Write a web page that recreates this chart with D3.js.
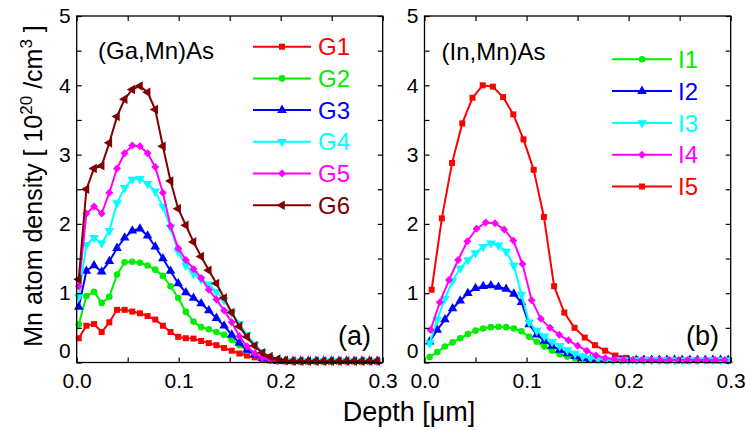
<!DOCTYPE html>
<html>
<head>
<meta charset="utf-8">
<script src="https://cdn.jsdelivr.net/npm/d3@7"></script>
<style>
  html, body { margin: 0; padding: 0; background: #fff; }
  svg { display: block; font-family: "Liberation Sans", Arial, sans-serif; }
</style>
</head>
<body>
<svg id="chart" width="746" height="430"></svg>
<script>
// ---- Depth grids [µm] ----
const depthG = [0.002, 0.0095, 0.017, 0.0245, 0.032, 0.0395, 0.047, 0.0545, 0.062, 0.0695,
  0.077, 0.0845, 0.092, 0.0995, 0.107, 0.1145, 0.122, 0.1295, 0.137, 0.1445,
  0.152, 0.1595, 0.167, 0.1745, 0.182, 0.1895, 0.197, 0.2045, 0.212, 0.2195,
  0.227, 0.2345, 0.242, 0.2495, 0.257, 0.2645, 0.272, 0.2795, 0.287, 0.2945];

const depthI = [0.005, 0.0125, 0.02, 0.0275, 0.035, 0.0425, 0.05, 0.0575, 0.065, 0.0725,
  0.08, 0.0875, 0.095, 0.1025, 0.11, 0.1175, 0.125, 0.1325, 0.14, 0.1475,
  0.155, 0.1625, 0.17, 0.1775, 0.185, 0.1925, 0.2, 0.2075, 0.215, 0.2225,
  0.23, 0.2375, 0.245, 0.2525, 0.26, 0.2675, 0.275, 0.2825, 0.29, 0.2975];

const depthI4 = [0.006, 0.015, 0.024, 0.033, 0.042, 0.051, 0.06, 0.069, 0.078, 0.087,
  0.096, 0.105, 0.114, 0.123, 0.132, 0.141, 0.15, 0.159, 0.168, 0.177,
  0.186, 0.195, 0.204, 0.213, 0.222, 0.231, 0.24, 0.249, 0.258, 0.267,
  0.276, 0.285, 0.294];

const depthI5 = [0.007, 0.017, 0.027, 0.037, 0.047, 0.057, 0.067, 0.077, 0.087, 0.097,
  0.107, 0.117, 0.127, 0.137, 0.147, 0.157, 0.167, 0.177, 0.187, 0.197,
  0.207, 0.217, 0.227, 0.237, 0.247, 0.257, 0.267, 0.277, 0.287, 0.297];

// ---- (Ga,Mn)As Mn density [1e20 /cm^3] ----
const G1 = [0.35, 0.53, 0.555, 0.44, 0.58, 0.76, 0.76, 0.735, 0.71, 0.67,
  0.62, 0.53, 0.44, 0.37, 0.35, 0.345, 0.31, 0.28, 0.25, 0.21,
  0.17, 0.13, 0.10, 0.075, 0.05, 0.03, 0.02, 0.015, 0.015, 0.012,
  0.012, 0.015, 0.012, 0.01, 0.012, 0.015, 0.012, 0.01, 0.012, 0.012];
const G2 = [0.55, 0.96, 1.02, 0.86, 0.95, 1.27, 1.445, 1.455, 1.44, 1.40,
  1.34, 1.25, 1.10, 0.93, 0.73, 0.59, 0.51, 0.48, 0.44, 0.40,
  0.33, 0.25, 0.17, 0.11, 0.06, 0.035, 0.02, 0.02, 0.015, 0.015,
  0.02, 0.015, 0.015, 0.02, 0.015, 0.015, 0.02, 0.015, 0.015, 0.02];
const G3 = [0.80, 1.32, 1.40, 1.31, 1.46, 1.65, 1.80, 1.90, 1.93, 1.83,
  1.67, 1.50, 1.32, 1.14, 1.01, 0.93, 0.85, 0.75, 0.64, 0.53,
  0.40, 0.28, 0.18, 0.11, 0.06, 0.035, 0.02, 0.02, 0.02, 0.02,
  0.02, 0.02, 0.02, 0.02, 0.02, 0.02, 0.02, 0.02, 0.02, 0.02];
const G4 = [0.95, 1.70, 1.80, 1.72, 1.90, 2.30, 2.52, 2.64, 2.65, 2.58,
  2.47, 2.25, 1.95, 1.60, 1.40, 1.28, 1.20, 1.13, 1.02, 0.90,
  0.72, 0.56, 0.40, 0.26, 0.15, 0.07, 0.035, 0.025, 0.02, 0.02,
  0.02, 0.02, 0.02, 0.02, 0.02, 0.02, 0.02, 0.02, 0.02, 0.02];
const G5 = [1.10, 2.15, 2.25, 2.15, 2.45, 2.80, 3.02, 3.13, 3.12, 3.02,
  2.82, 2.45, 1.97, 1.65, 1.48, 1.35, 1.22, 1.05, 0.91, 0.75,
  0.58, 0.38, 0.23, 0.13, 0.07, 0.035, 0.02, 0.02, 0.02, 0.02,
  0.02, 0.02, 0.02, 0.02, 0.02, 0.02, 0.02, 0.02, 0.02, 0.02];
const G6 = [1.20, 2.50, 2.80, 2.84, 3.17, 3.55, 3.80, 3.94, 3.99, 3.90,
  3.65, 3.12, 2.62, 2.22, 1.98, 1.74, 1.53, 1.33, 1.14, 0.93,
  0.72, 0.52, 0.37, 0.24, 0.14, 0.085, 0.05, 0.03, 0.02, 0.02,
  0.02, 0.02, 0.02, 0.02, 0.02, 0.02, 0.02, 0.02, 0.02, 0.02];

// ---- (In,Mn)As Mn density [1e20 /cm^3] ----
const I1 = [0.08, 0.15, 0.23, 0.29, 0.35, 0.41, 0.46, 0.49, 0.51, 0.515,
  0.51, 0.49, 0.45, 0.37, 0.30, 0.23, 0.17, 0.12, 0.085, 0.06,
  0.045, 0.035, 0.035, 0.035, 0.035, 0.035, 0.035, 0.035, 0.035, 0.035,
  0.035, 0.035, 0.035, 0.035, 0.035, 0.035, 0.035, 0.035, 0.035, 0.035];
const I2 = [0.30, 0.47, 0.62, 0.78, 0.89, 1.00, 1.07, 1.10, 1.11, 1.09,
  1.06, 0.99, 0.87, 0.55, 0.40, 0.31, 0.24, 0.18, 0.13, 0.09,
  0.06, 0.045, 0.035, 0.035, 0.035, 0.035, 0.035, 0.035, 0.035, 0.035,
  0.035, 0.035, 0.035, 0.035, 0.035, 0.035, 0.035, 0.035, 0.035, 0.035];
const I3 = [0.28, 0.62, 0.92, 1.18, 1.36, 1.48, 1.58, 1.67, 1.72, 1.69,
  1.60, 1.40, 0.98, 0.58, 0.46, 0.38, 0.30, 0.24, 0.18, 0.13,
  0.09, 0.065, 0.05, 0.04, 0.035, 0.035, 0.035, 0.035, 0.035, 0.035,
  0.035, 0.035, 0.035, 0.035, 0.035, 0.035, 0.035, 0.035, 0.035, 0.035];
const I4 = [0.47, 0.87, 1.19, 1.48, 1.75, 1.93, 2.02, 2.01, 1.92, 1.76,
  1.42, 0.90, 0.63, 0.50, 0.40, 0.32, 0.24, 0.17, 0.10, 0.065,
  0.045, 0.035, 0.035, 0.035, 0.035, 0.035, 0.035, 0.035, 0.035, 0.035,
  0.035, 0.035, 0.035];
const I5 = [1.05, 2.08, 2.88, 3.45, 3.82, 4.00, 3.98, 3.83, 3.58, 3.22,
  2.78, 2.10, 1.10, 0.72, 0.50, 0.36, 0.25, 0.17, 0.10, 0.065,
  0.045, 0.04, 0.035, 0.03, 0.03, 0.03, 0.03, 0.03, 0.03, 0.03];

// ---- Labels and ticks ----
const namesG = ["G1", "G2", "G3", "G4", "G5", "G6"];
const namesI = ["I1", "I2", "I3", "I4", "I5"];
const xTicks = [0, 0.05, 0.1, 0.15, 0.2, 0.25, 0.3];
const yTicks = [0, 0.5, 1, 1.5, 2, 2.5, 3, 3.5, 4, 4.5, 5];

const RED = "#ff0000", GREEN = "#00ee00", BLUE = "#0000ff",
      CYAN = "#00ffff", MAGENTA = "#ff00ff", WINE = "#800000";

const panels = [
  {
    x0: 76.7, x1: 382.7, title: "(Ga,Mn)As", tag: "(a)", tagX: 338,
    titleX: 98, titleY: 59,
    legend: { x0: 253, x1: 311, tx: 318, y0: 46.7, dy: 31.7 },
    series: [
      { name: namesG[0], x: depthG, y: G1, color: RED, shape: "square" },
      { name: namesG[1], x: depthG, y: G2, color: GREEN, shape: "circle" },
      { name: namesG[2], x: depthG, y: G3, color: BLUE, shape: "up" },
      { name: namesG[3], x: depthG, y: G4, color: CYAN, shape: "down" },
      { name: namesG[4], x: depthG, y: G5, color: MAGENTA, shape: "diamond" },
      { name: namesG[5], x: depthG, y: G6, color: WINE, shape: "left" }
    ],
    drawOrder: [0, 1, 2, 3, 4, 5]
  },
  {
    x0: 424.5, x1: 730.7, title: "(In,Mn)As", tag: "(b)", tagX: 686,
    titleX: 441.5, titleY: 60,
    legend: { x0: 612, x1: 672, tx: 678, y0: 59.3, dy: 31.8 },
    series: [
      { name: namesI[0], x: depthI, y: I1, color: GREEN, shape: "circle" },
      { name: namesI[1], x: depthI, y: I2, color: BLUE, shape: "up" },
      { name: namesI[2], x: depthI, y: I3, color: CYAN, shape: "down" },
      { name: namesI[3], x: depthI4, y: I4, color: MAGENTA, shape: "diamond" },
      { name: namesI[4], x: depthI5, y: I5, color: RED, shape: "square" }
    ],
    drawOrder: [4, 0, 1, 2, 3]
  }
];

const yTop = 16, yBot = 362.5;
const svg = d3.select("#chart");

function symbolPath(shape) {
  switch (shape) {
    case "square": return { d: d3.symbol(d3.symbolSquare, 36)(), rot: 0 };
    case "circle": return { d: d3.symbol(d3.symbolCircle, 34)(), rot: 0 };
    case "up": return { d: d3.symbol(d3.symbolTriangle, 40)(), rot: 0 };
    case "down": return { d: d3.symbol(d3.symbolTriangle, 40)(), rot: 180 };
    case "left": return { d: d3.symbol(d3.symbolTriangle, 40)(), rot: -90 };
    case "diamond": return { d: d3.symbol(d3.symbolSquare, 32)(), rot: 45 };
  }
}

panels.forEach(p => {
  const x = d3.scaleLinear().domain([0, 0.3]).range([p.x0, p.x1]);
  const y = d3.scaleLinear().domain([0, 5]).range([yBot, yTop]);
  const g = svg.append("g");

  // data curves
  const line = d3.line().x(d => x(d[0])).y(d => y(d[1]));
  p.drawOrder.forEach(i => {
    const s = p.series[i];
    const pts = s.x.map((xv, k) => [xv, s.y[k]]);
    const sym = symbolPath(s.shape);
    const sg = g.append("g");
    sg.append("path").datum(pts)
      .attr("d", line).attr("fill", "none")
      .attr("stroke", s.color).attr("stroke-width", 2)
      .attr("stroke-linejoin", "round");
    sg.selectAll("path.m").data(pts).enter().append("path")
      .attr("class", "m")
      .attr("d", sym.d)
      .attr("transform", d => `translate(${x(d[0])},${y(d[1])}) rotate(${sym.rot})`)
      .attr("fill", s.color);
  });

  // axes with inward ticks on all four sides
  const fmtX = v => (Math.abs(v * 10 - Math.round(v * 10)) < 1e-6 ? d3.format(".1f")(v) : "");
  const fmtY = v => (Number.isInteger(v) ? String(v) : "");

  const axB = g.append("g").attr("transform", `translate(0,${yBot})`)
    .call(d3.axisBottom(x).tickValues(xTicks).tickFormat(fmtX).tickSize(-5).tickPadding(11));
  const axT = g.append("g").attr("transform", `translate(0,${yTop})`)
    .call(d3.axisTop(x).tickValues(xTicks).tickFormat("").tickSize(-5));
  const axL = g.append("g").attr("transform", `translate(${p.x0},0)`)
    .call(d3.axisLeft(y).tickValues(yTicks).tickFormat(fmtY).tickSize(-5).tickPadding(6));
  const axR = g.append("g").attr("transform", `translate(${p.x1},0)`)
    .call(d3.axisRight(y).tickValues(yTicks).tickFormat("").tickSize(-5));

  [axB, axT, axL, axR].forEach(a => {
    a.select(".domain").remove();
    a.selectAll("line").attr("stroke", "#000").attr("stroke-width", 1.2);
    a.selectAll("text").attr("fill", "#000")
      .style("font-family", '"Liberation Sans", Arial, sans-serif')
      .style("font-size", "21px");
  });
  // lift the zero label clear of the depth labels
  axL.selectAll(".tick").filter(d => d === 0).select("text").attr("dy", "-0.22em");

  // frame
  g.append("rect")
    .attr("x", p.x0).attr("y", yTop)
    .attr("width", p.x1 - p.x0).attr("height", yBot - yTop)
    .attr("fill", "none").attr("stroke", "#000").attr("stroke-width", 1.3);

  // compound label and panel tag
  g.append("text").attr("x", p.titleX).attr("y", p.titleY)
    .attr("font-size", 24).attr("fill", "#000").text(p.title);
  g.append("text").attr("x", p.tagX).attr("y", 345)
    .attr("font-size", 27).attr("fill", "#000").text(p.tag);

  // legend
  p.series.forEach((s, k) => {
    const ly = p.legend.y0 + k * p.legend.dy;
    const sym = symbolPath(s.shape);
    g.append("line")
      .attr("x1", p.legend.x0).attr("x2", p.legend.x1)
      .attr("y1", ly).attr("y2", ly)
      .attr("stroke", s.color).attr("stroke-width", 2);
    g.append("path").attr("d", sym.d)
      .attr("transform", `translate(${(p.legend.x0 + p.legend.x1) / 2},${ly}) rotate(${sym.rot})`)
      .attr("fill", s.color);
    g.append("text").attr("x", p.legend.tx).attr("y", ly + 8.6)
      .attr("font-size", 24).attr("fill", s.color).text(s.name);
  });
});

// shared axis titles
svg.append("text")
  .attr("x", 409).attr("y", 421)
  .attr("text-anchor", "middle").attr("font-size", 27).attr("fill", "#000")
  .text("Depth [\u03bcm]");

const yt = svg.append("text")
  .attr("transform", "translate(42,186) rotate(-90)")
  .attr("text-anchor", "middle").attr("font-size", 25).attr("fill", "#000");
yt.append("tspan").text("Mn atom density [ 10");
yt.append("tspan").attr("font-size", 17).attr("dy", -10).text("20");
yt.append("tspan").attr("dy", 10).text(" /cm");
yt.append("tspan").attr("font-size", 17).attr("dy", -10).text("3");
yt.append("tspan").attr("dy", 10).text(" ]");
</script>
</body>
</html>
